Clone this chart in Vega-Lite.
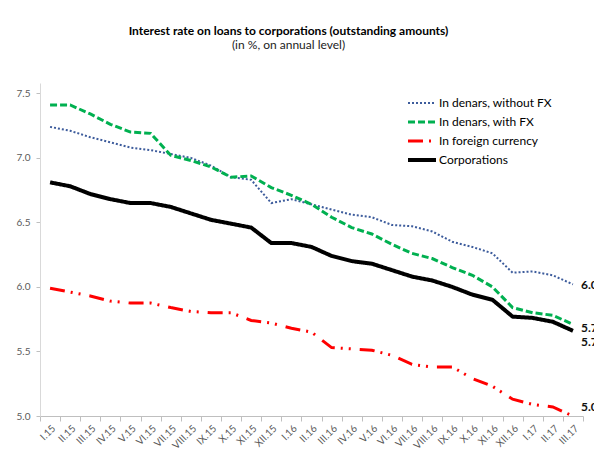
{
  "$schema": "https://vega.github.io/schema/vega-lite/v6.json",
  "width": 543,
  "height": 333,
  "autosize": "none",
  "padding": {"left": 40, "top": 83, "right": 11, "bottom": 40},
  "background": "white",
  "title": {
    "text": "Interest rate on loans to corporations (outstanding amounts)",
    "subtitle": "(in %, on annual level)",
    "font": "Lato",
    "fontSize": 12,
    "fontWeight": "bold",
    "color": "#000000",
    "subtitleFont": "Lato",
    "subtitleFontSize": 12,
    "subtitleColor": "#222222",
    "anchor": "middle",
    "dx": -23,
    "offset": 31,
    "subtitlePadding": 2
  },
  "data": {
    "values": [
      {"month": "I.15", "In denars, without FX": 7.24, "In denars, with FX": 7.41, "In foreign currency": 5.99, "Corporations": 6.81},
      {"month": "II.15", "In denars, without FX": 7.21, "In denars, with FX": 7.41, "In foreign currency": 5.96, "Corporations": 6.78},
      {"month": "III.15", "In denars, without FX": 7.16, "In denars, with FX": 7.34, "In foreign currency": 5.93, "Corporations": 6.72},
      {"month": "IV.15", "In denars, without FX": 7.12, "In denars, with FX": 7.26, "In foreign currency": 5.89, "Corporations": 6.68},
      {"month": "V.15", "In denars, without FX": 7.08, "In denars, with FX": 7.2, "In foreign currency": 5.875, "Corporations": 6.65},
      {"month": "VI.15", "In denars, without FX": 7.06, "In denars, with FX": 7.19, "In foreign currency": 5.875, "Corporations": 6.65},
      {"month": "VII.15", "In denars, without FX": 7.03, "In denars, with FX": 7.02, "In foreign currency": 5.84, "Corporations": 6.62},
      {"month": "VIII.15", "In denars, without FX": 7.0, "In denars, with FX": 6.98, "In foreign currency": 5.81, "Corporations": 6.57},
      {"month": "IX.15", "In denars, without FX": 6.94, "In denars, with FX": 6.93, "In foreign currency": 5.8, "Corporations": 6.52},
      {"month": "X.15", "In denars, without FX": 6.85, "In denars, with FX": 6.85, "In foreign currency": 5.8, "Corporations": 6.49},
      {"month": "XI.15", "In denars, without FX": 6.83, "In denars, with FX": 6.86, "In foreign currency": 5.74, "Corporations": 6.46},
      {"month": "XII.15", "In denars, without FX": 6.65, "In denars, with FX": 6.77, "In foreign currency": 5.72, "Corporations": 6.34},
      {"month": "I.16", "In denars, without FX": 6.68, "In denars, with FX": 6.71, "In foreign currency": 5.68, "Corporations": 6.34},
      {"month": "II.16", "In denars, without FX": 6.64, "In denars, with FX": 6.64, "In foreign currency": 5.65, "Corporations": 6.31},
      {"month": "III.16", "In denars, without FX": 6.6, "In denars, with FX": 6.54, "In foreign currency": 5.53, "Corporations": 6.24},
      {"month": "IV.16", "In denars, without FX": 6.56, "In denars, with FX": 6.46, "In foreign currency": 5.52, "Corporations": 6.2},
      {"month": "V.16", "In denars, without FX": 6.54, "In denars, with FX": 6.41, "In foreign currency": 5.51, "Corporations": 6.18},
      {"month": "VI.16", "In denars, without FX": 6.48, "In denars, with FX": 6.33, "In foreign currency": 5.47, "Corporations": 6.13},
      {"month": "VII.16", "In denars, without FX": 6.47, "In denars, with FX": 6.26, "In foreign currency": 5.4, "Corporations": 6.08},
      {"month": "VIII.16", "In denars, without FX": 6.43, "In denars, with FX": 6.22, "In foreign currency": 5.38, "Corporations": 6.05},
      {"month": "IX.16", "In denars, without FX": 6.35, "In denars, with FX": 6.15, "In foreign currency": 5.38, "Corporations": 6.0},
      {"month": "X.16", "In denars, without FX": 6.31, "In denars, with FX": 6.09, "In foreign currency": 5.29, "Corporations": 5.94},
      {"month": "XI.16", "In denars, without FX": 6.26, "In denars, with FX": 6.0, "In foreign currency": 5.23, "Corporations": 5.9},
      {"month": "XII.16", "In denars, without FX": 6.11, "In denars, with FX": 5.84, "In foreign currency": 5.13, "Corporations": 5.77},
      {"month": "I.17", "In denars, without FX": 6.12, "In denars, with FX": 5.8, "In foreign currency": 5.09, "Corporations": 5.76},
      {"month": "II.17", "In denars, without FX": 6.09, "In denars, with FX": 5.78, "In foreign currency": 5.07, "Corporations": 5.73},
      {"month": "III.17", "In denars, without FX": 6.02, "In denars, with FX": 5.71, "In foreign currency": 5.0, "Corporations": 5.66}
    ]
  },
  "transform": [
    {"fold": ["In denars, without FX", "In denars, with FX", "In foreign currency", "Corporations"], "as": ["series", "value"]}
  ],
  "encoding": {
    "x": {
      "field": "month",
      "type": "ordinal",
      "sort": null,
      "scale": {"type": "band", "paddingInner": 0, "paddingOuter": 0},
      "axis": {
        "title": null,
        "labelAngle": -45,
        "tickBand": "extent",
        "labelFont": "Lato",
        "labelFontSize": 10,
        "labelColor": "#595959",
        "domainColor": "#BFBFBF",
        "tickColor": "#BFBFBF",
        "tickSize": 5,
        "labelPadding": 2,
        "grid": false
      }
    },
    "y": {
      "field": "value",
      "type": "quantitative",
      "scale": {"domain": [5, 7.58], "nice": false, "zero": false},
      "axis": {
        "title": null,
        "values": [5, 5.5, 6, 6.5, 7, 7.5],
        "format": ".1f",
        "grid": false,
        "labelFont": "Lato",
        "labelFontSize": 10,
        "labelColor": "#595959",
        "domainColor": "#D9D9D9",
        "tickColor": "#BFBFBF",
        "tickSize": 4,
        "labelPadding": 6
      }
    }
  },
  "layer": [
    {
      "mark": {"type": "line"},
      "encoding": {
        "color": {
          "field": "series",
          "type": "nominal",
          "scale": {
            "domain": ["In denars, without FX", "In denars, with FX", "In foreign currency", "Corporations"],
            "range": ["#3D5C9C", "#00B050", "#FF0000", "#000000"]
          },
          "legend": {
            "orient": "none",
            "legendX": 366,
            "legendY": 12,
            "title": null,
            "symbolType": "stroke",
            "symbolSize": 784,
            "labelFont": "Lato",
            "labelFontSize": 12,
            "labelColor": "#000000",
            "labelOffset": 1,
            "clipHeight": 16,
            "rowPadding": 3
          }
        },
        "strokeDash": {
          "field": "series",
          "type": "nominal",
          "scale": {
            "domain": ["In denars, without FX", "In denars, with FX", "In foreign currency", "Corporations"],
            "range": [[2, 2], [7, 3], [15, 6, 2, 6, 2, 9], [1, 0]]
          },
          "legend": {
            "orient": "none",
            "legendX": 366,
            "legendY": 12,
            "title": null,
            "symbolType": "stroke",
            "symbolSize": 784,
            "labelFont": "Lato",
            "labelFontSize": 12,
            "labelColor": "#000000",
            "labelOffset": 1,
            "clipHeight": 16,
            "rowPadding": 3
          }
        },
        "strokeWidth": {
          "field": "series",
          "type": "nominal",
          "scale": {
            "type": "ordinal",
            "domain": ["In denars, without FX", "In denars, with FX", "In foreign currency", "Corporations"],
            "range": [2, 3, 3, 4]
          },
          "legend": {
            "orient": "none",
            "legendX": 366,
            "legendY": 12,
            "title": null,
            "symbolType": "stroke",
            "symbolSize": 784,
            "labelFont": "Lato",
            "labelFontSize": 12,
            "labelColor": "#000000",
            "labelOffset": 1,
            "clipHeight": 16,
            "rowPadding": 3
          }
        }
      }
    },
    {
      "transform": [{"filter": "datum.month == 'III.17' && datum.series == 'In denars, without FX'"}],
      "mark": {"type": "text", "align": "left", "baseline": "middle", "dx": 8, "dy": 1, "font": "Lato", "fontSize": 12, "fontWeight": "bold", "color": "#111111"},
      "encoding": {"text": {"field": "value", "type": "quantitative", "format": ".1f"}}
    },
    {
      "transform": [{"filter": "datum.month == 'III.17' && datum.series == 'In denars, with FX'"}],
      "mark": {"type": "text", "align": "left", "baseline": "middle", "dx": 8, "dy": 4, "font": "Lato", "fontSize": 12, "fontWeight": "bold", "color": "#111111"},
      "encoding": {"text": {"field": "value", "type": "quantitative", "format": ".1f"}}
    },
    {
      "transform": [{"filter": "datum.month == 'III.17' && datum.series == 'Corporations'"}],
      "mark": {"type": "text", "align": "left", "baseline": "middle", "dx": 8, "dy": 11, "font": "Lato", "fontSize": 12, "fontWeight": "bold", "color": "#111111"},
      "encoding": {"text": {"field": "value", "type": "quantitative", "format": ".1f"}}
    },
    {
      "transform": [{"filter": "datum.month == 'III.17' && datum.series == 'In foreign currency'"}],
      "mark": {"type": "text", "align": "left", "baseline": "middle", "dx": 8, "dy": -9, "font": "Lato", "fontSize": 12, "fontWeight": "bold", "color": "#111111"},
      "encoding": {"text": {"field": "value", "type": "quantitative", "format": ".1f"}}
    }
  ],
  "config": {
    "view": {"stroke": null},
    "font": "Lato"
  }
}
